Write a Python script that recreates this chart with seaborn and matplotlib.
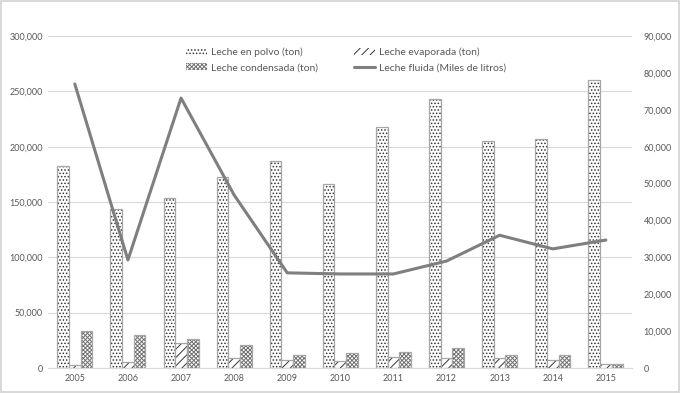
import numpy as np
import pandas as pd
import matplotlib
matplotlib.use("Agg")
import matplotlib.pyplot as plt
import seaborn as sns
from matplotlib.ticker import FuncFormatter
from matplotlib.patches import Patch
from matplotlib.lines import Line2D

years = ["2005", "2006", "2007", "2008", "2009", "2010", "2011", "2012", "2013", "2014", "2015"]
polvo = [183000, 144000, 154000, 173000, 187000, 166000, 218000, 243000, 205000, 207000, 260000]
evaporada = [2400, 5000, 22300, 8800, 7500, 6000, 9600, 8700, 8700, 7000, 3300]
condensada = [33000, 29500, 26000, 20800, 11400, 13900, 14200, 17800, 11400, 11400, 3300]
fluida = [77000, 29300, 73200, 46900, 25800, 25500, 25500, 29000, 36000, 32300, 34700]

names = ["Leche en polvo (ton)", "Leche evaporada (ton)", "Leche condensada (ton)"]
hatches = [".....", "////", "xxxxxxxx"]
hatch_colors = ["#333333", "#333333", "#6E6E6E"]
line_name = "Leche fluida (Miles de litros)"

df = pd.DataFrame({"year": years * 3,
                   "value": polvo + evaporada + condensada,
                   "serie": [names[0]] * 11 + [names[1]] * 11 + [names[2]] * 11})

sns.set_style("white")
plt.rcParams["font.family"] = ["Lato", "DejaVu Sans"]
plt.rcParams["hatch.linewidth"] = 0.7

fig = plt.figure(figsize=(6.8, 3.93), dpi=100)
fig.patch.set_edgecolor("#D9D9D9")
fig.patch.set_linewidth(1.5)
ax = fig.add_axes([0.071, 0.0636, 0.859, 0.8446])

sns.barplot(data=df, x="year", y="value", hue="serie", ax=ax,
            palette=["white"] * 3, width=0.66, gap=0, edgecolor="#A6A6A6",
            linewidth=0.9, legend=False, zorder=2)

# hatch each series; dark hatch, light grey outline
n = len(years)
for i, p in enumerate(ax.patches[:3 * n]):
    p.set_hatch(hatches[i // n])
    p._hatch_color = matplotlib.colors.to_rgba(hatch_colors[i // n])

ax.set_ylim(0, 300000)
ax.set_yticks(np.arange(0, 300001, 50000))
ax.yaxis.set_major_formatter(FuncFormatter(lambda v, _: f"{int(v):,}"))
ax.grid(axis="y", color="#D9D9D9", linewidth=0.8, zorder=0)
ax.set_axisbelow(True)
ax.set_xlabel("")
ax.set_ylabel("")
for s in ["top", "right", "left"]:
    ax.spines[s].set_visible(False)
ax.spines["bottom"].set_color("#D9D9D9")
ax.tick_params(axis="both", labelsize=6.5, colors="#595959", length=0, pad=4)

ax2 = ax.twinx()
sns.lineplot(x=np.arange(n), y=fluida, ax=ax2, color="#7F7F7F", linewidth=2.2)
ax2.set_ylim(0, 90000)
ax2.set_yticks(np.arange(0, 90001, 10000))
ax2.yaxis.set_major_formatter(FuncFormatter(lambda v, _: f"{int(v):,}"))
for s in ["top", "right", "left", "bottom"]:
    ax2.spines[s].set_visible(False)
ax2.tick_params(axis="y", labelsize=6.5, colors="#595959", length=0, pad=8)
ax2.set_ylabel("")
ax.set_xlim(-0.5, n - 0.5)

handles = [Patch(facecolor="white", edgecolor=hatch_colors[0], hatch=hatches[0], linewidth=0),
           Patch(facecolor="white", edgecolor=hatch_colors[2], hatch=hatches[2], linewidth=0),
           Patch(facecolor="white", edgecolor=hatch_colors[1], hatch=hatches[1], linewidth=0),
           Line2D([0], [0], color="#7F7F7F", linewidth=2.2)]
labels = [names[0], names[2], names[1], line_name]
ax2.legend(handles, labels, ncol=2, loc="center", bbox_to_anchor=(0.51, 0.928),
           frameon=False, fontsize=7.5, labelcolor="#595959", columnspacing=3.5,
           handlelength=2.0, handleheight=0.7, handletextpad=0.4, labelspacing=0.55)

fig.savefig("out.png", dpi=100)
